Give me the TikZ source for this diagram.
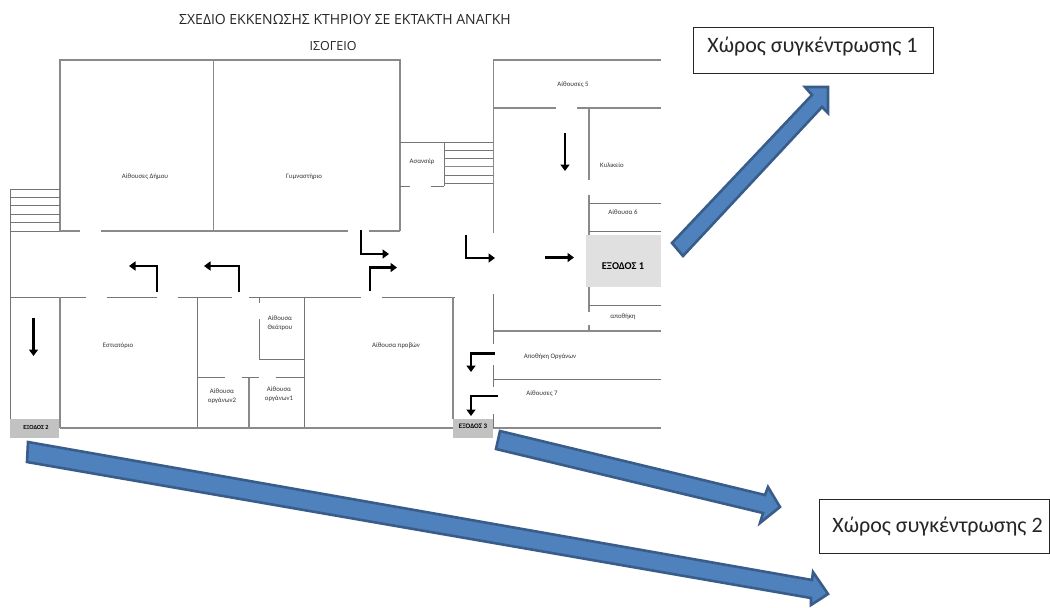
\documentclass[tikz,border=0pt]{standalone}
\usepackage{fontspec}
\setmainfont{Carlito}
\newfontfamily\titlefont{Open Sans}
\usetikzlibrary{arrows.meta}
\definecolor{wallc}{HTML}{8A8A8A}
\definecolor{blockfill}{HTML}{4F81BD}
\definecolor{blockedge}{HTML}{385D8A}
\tikzset{
  wall/.style={draw=wallc,line width=1.4pt},
  thin wall/.style={draw=wallc!85!black,line width=1pt},
  route/.style={draw=black,line width=2.7pt,-{Triangle[length=6.5pt,width=9pt]}},
  bigarrow/.style={draw=blockedge,fill=blockfill,line width=2.6pt,line join=miter},
  room/.style={font=\fontsize{6.8}{8}\selectfont,text=black!80,align=center,inner sep=0pt},
  exitbox/.style={fill=#1,draw=none},
  exitlabel/.style={text=black,inner sep=0pt},
  assembly/.style={draw=black!85,line width=1pt,fill=white},
  assemblytext/.style={font=\fontsize{22}{26}\selectfont,text=black!85,inner sep=0pt},
  titletext/.style={font=\titlefont\selectfont,text=black!85,inner sep=0pt}
}
\begin{document}
\begin{tikzpicture}[x=1pt,y=-1pt]
\useasboundingbox (0,0) rectangle (1050,608);
\fill[white] (0,0) rectangle (1050,608);
% exit boxes
\fill[exitbox=black!12] (586,235) rectangle (661,287);
\fill[exitbox=black!24] (10,419) rectangle (59,438);
\fill[exitbox=black!24] (453,419) rectangle (493,438);
% upper block
\draw[wall] (60,231) -- (60,60) -- (400,60) -- (400,231);
\draw[wall] (213.5,60) -- (213.5,231);
\draw[wall] (60,231) -- (80,231) (101,231) -- (348,231) (369,231) -- (400,231);
% left stairs
\draw[thin wall] (10,189) -- (60,189) (10,197) -- (60,197) (10,205) -- (60,205)
  (10,214) -- (60,214) (10,222) -- (60,222) (10,231) -- (60,231);
\draw[thin wall] (10.5,189) -- (10.5,419);
% lower block
\draw[thin wall] (10,297) -- (86,297) (107,297) -- (157,297) (178,297) -- (232,297)
  (249,297) -- (361,297) (382,297) -- (455,297);
\draw[wall] (60,297) -- (60,428);
\draw[thin wall] (197.5,297) -- (197.5,428);
\draw[thin wall] (259,297) -- (259,303) (259,319) -- (259,359) -- (304,359);
\draw[thin wall] (304,297) -- (304,428);
\draw[thin wall] (197.5,377.5) -- (224.5,377.5) (242,377.5) -- (259,377.5) (276,377.5) -- (304,377.5);
\draw[wall] (249,377.5) -- (249,428);
\draw[wall] (453,297) -- (453,419);
\draw[wall] (60,428) -- (453,428) (493,428) -- (661,428);
% lift and right stairs
\draw[thin wall] (400,142) -- (493.5,142);
\draw[thin wall] (444,142) -- (444,186);
\draw[thin wall] (400,186) -- (410,186) (431,186) -- (444,186);
\draw[thin wall] (444,150) -- (493.5,150) (444,158.3) -- (493.5,158.3) (444,175) -- (493.5,175) (444,183.3) -- (493.5,183.3);
\draw[wall] (444,166.7) -- (493.5,166.7);
% right block
\draw[wall] (661,60) -- (493.5,60) -- (493.5,233);
\draw[wall] (493.5,108) -- (556,108) (577,108) -- (661,108);
\draw[wall] (589,108) -- (589,180) (589,195) -- (589,235);
\draw[thin wall] (589,203) -- (661,203) (589,231) -- (661,231);
\draw[thin wall] (493.5,294) -- (493.5,344) (493.5,365) -- (493.5,387) (493.5,414) -- (493.5,428);
\draw[wall] (589,287) -- (589,312) (589,325) -- (589,331);
\draw[thin wall] (589,305) -- (661,305);
\draw[wall] (493.5,331) -- (661,331);
\draw[thin wall] (493.5,379.5) -- (661,379.5);
% route arrows
\draw[route] (157,292) -- (157,266) -- (129,266);
\draw[route] (239,292) -- (239,266) -- (204,266);
\draw[route] (361,230) -- (361,254) -- (389,254);
\draw[route] (370,291) -- (370,267.5) -- (397,267.5);
\draw[route] (466,235) -- (466,258) -- (495,258);
\draw[route] (545,257.5) -- (574,257.5);
\draw[route] (565,133) -- (565,171);
\draw[route] (33.5,318) -- (33.5,356);
\draw[route] (495,353.5) -- (471,353.5) -- (471,372);
\draw[route] (498,396) -- (471,396) -- (471,416);
% assembly arrows
\draw[bigarrow] (672,243) -- (812,95) -- (805,87) -- (828,87) -- (828,113) -- (822,107) -- (683,256) -- cycle;
\draw[bigarrow] (500,431) -- (765,495) -- (768,487) -- (780,507) -- (760,523) -- (763,513) -- (496,449) -- cycle;
\draw[bigarrow] (28,442) -- (812,580) -- (813,572) -- (828,594) -- (811,605) -- (811,598) -- (27,462) -- cycle;
% assembly boxes
\draw[assembly] (693,27) rectangle (933,73);
\draw[assembly] (819,499) rectangle (1049.5,553);
\node[assemblytext] (a1) at (812.5,47) {Χώρος συγκέντρωσης 1};
\node[assemblytext] (a2) at (937.5,526.5) {Χώρος συγκέντρωσης 2};
% titles
\node[titletext,font=\titlefont\fontsize{14}{17}\selectfont] (t1) at (345,19) {ΣΧΕΔΙΟ ΕΚΚΕΝΩΣΗΣ ΚΤΗΡΙΟΥ ΣΕ ΕΚΤΑΚΤΗ ΑΝΑΓΚΗ};
\node[titletext,font=\titlefont\fontsize{12.5}{15}\selectfont] (t2) at (333,46) {ΙΣΟΓΕΙΟ};
% room labels
\node[room] (r1) at (145,177) {Αίθουσες Δήμου};
\node[room] (r2) at (304,177) {Γυμναστήριο};
\node[room] (r3) at (422,162) {Ασανσέρ};
\node[room] (r4) at (573,85) {Αίθουσες 5};
\node[room] (r5) at (612,165) {Κυλικείο};
\node[room] (r6) at (623,212) {Αίθουσα 6};
\node[room] (r7) at (623,317) {αποθήκη};
\node[room] (r8) at (550,357) {Αποθήκη Οργάνων};
\node[room] (r9) at (542,394) {Αίθουσες 7};
\node[room] (r10) at (396,346) {Αίθουσα προβών};
\node[room] (r11) at (118,346) {Εστιατόριο};
\node[room] (r12) at (280,323) {Αίθουσα\\[1pt]Θεάτρου};
\node[room] (r13) at (222,396) {Αίθουσα\\[1pt]οργάνων2};
\node[room] (r14) at (279,394) {Αίθουσα\\[1pt]οργάνων1};
\node[exitlabel,font=\bfseries\fontsize{10.4}{12}\selectfont] (e1) at (623,266) {ΕΞΟΔΟΣ 1};
\node[exitlabel,font=\bfseries\fontsize{6.2}{7}\selectfont] (e2) at (36,427) {ΕΞΟΔΟΣ 2};
\node[exitlabel,font=\bfseries\fontsize{6.9}{8}\selectfont] (e3) at (473,426) {ΕΞΟΔΟΣ 3};
\end{tikzpicture}
\end{document}
